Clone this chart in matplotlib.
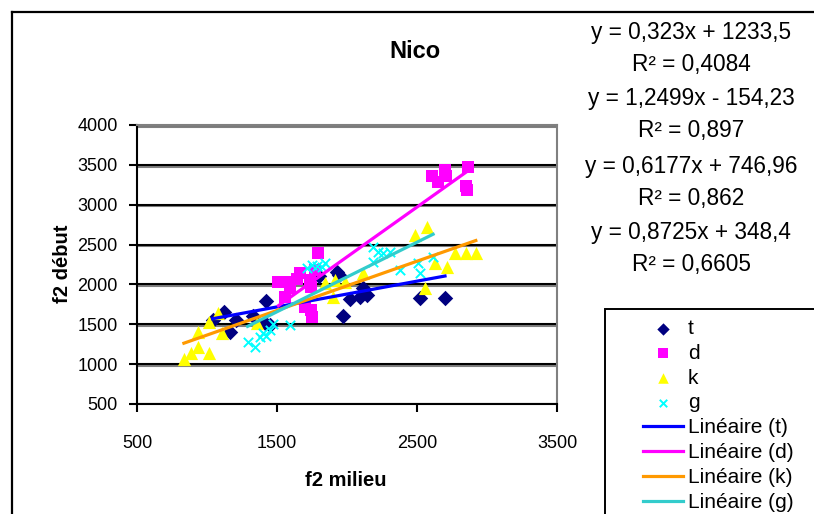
import matplotlib
matplotlib.use("Agg")
import matplotlib.pyplot as plt
import matplotlib.patheffects as pe
from matplotlib.lines import Line2D
from matplotlib.patches import Rectangle
import numpy as np

plt.rcParams['font.family'] = ['Liberation Sans', 'DejaVu Sans']

# ---- data ----
t_x = [1040, 1120, 1210, 1165, 1330, 1420, 1415, 1450, 1800, 1930, 1940, 1970, 2020, 2090, 2140, 2115, 2520, 2700]
t_y = [1560, 1650, 1550, 1400, 1600, 1790, 1520, 1490, 2100, 2150, 2120, 1600, 1820, 1840, 1870, 1950, 1830, 1830]

d_x = [1510, 1560, 1570, 1590, 1640, 1665, 1700, 1735, 1740, 1745, 1750, 1770, 1790, 2610, 2650, 2700, 2710, 2865, 2850, 2860]
d_y = [2030, 1840, 2030, 1950, 2070, 2140, 1720, 2050, 1970, 1680, 1590, 2180, 2390, 3360, 3280, 3430, 3360, 3470, 3230, 3180]

k_x = [835, 885, 935, 1015, 935, 1015, 1080, 1105, 1360, 1840, 1900, 1915, 1985, 2115, 2485, 2555, 2570, 2630, 2715, 2770, 2850, 2920]
k_y = [1060, 1140, 1215, 1140, 1400, 1530, 1640, 1390, 1520, 2020, 1840, 2060, 2030, 2140, 2620, 1950, 2720, 2270, 2220, 2390, 2390, 2400]

g_x = [1290, 1340, 1380, 1400, 1420, 1450, 1470, 1590, 1715, 1750, 1785, 1820, 1845, 2185, 2220, 2255, 2305, 2185, 2380, 2505, 2520, 2615]
g_y = [1280, 1215, 1340, 1390, 1350, 1430, 1500, 1490, 2200, 2240, 2230, 2220, 2270, 2470, 2410, 2390, 2410, 2280, 2180, 2270, 2140, 2340]

series_names = ['t', 'd', 'k', 'g']
slopes = [0.323, 1.2499, 0.6177, 0.8725]
intercepts = [1233.5, -154.23, 746.96, 348.4]
equations = ['y = 0,323x + 1233,5', 'R² = 0,4084',
             'y = 1,2499x - 154,23', 'R² = 0,897',
             'y = 0,6177x + 746,96', 'R² = 0,862',
             'y = 0,8725x + 348,4', 'R² = 0,6605']
x_ticks = [500, 1500, 2500, 3500]
y_ticks = [500, 1000, 1500, 2000, 2500, 3000, 3500, 4000]

# ---- styles ----
W, H = 814, 514
marker_styles = [dict(marker='D', color='#000080', s=62, lw=0),
                 dict(marker='s', color='#FF00FF', s=72, lw=0),
                 dict(marker='^', color='#FFFF00', s=90, lw=0),
                 dict(marker='x', color='#00FFFF', s=45, lw=1.4)]
line_colors = ['#0000FF', '#FF00FF', '#FF9900', '#33CCCC']

fig = plt.figure(figsize=(W / 100, H / 100), dpi=100)
fig.patch.set_facecolor('white')

def fx(px):
    return px / W

def fy(py):
    return 1 - py / H

ax = fig.add_axes([fx(137), fy(404), fx(557) - fx(137), fy(125) - fy(404)])
ax.set_xlim(500, 3500)
ax.set_ylim(500, 4000)
ax.set_xticks(x_ticks)
ax.set_yticks(y_ticks)
ax.set_xticklabels([str(v) for v in x_ticks])
ax.set_yticklabels([str(v) for v in y_ticks])
ax.tick_params(axis='y', direction='out', length=6, width=1.5, pad=8, labelsize=13)
ax.tick_params(axis='x', direction='out', length=6, width=1.5, pad=16, labelsize=13)

for s in ['left', 'bottom']:
    ax.spines[s].set_color('black')
    ax.spines[s].set_linewidth(1.5)
for s in ['top', 'right']:
    ax.spines[s].set_color('#808080')
    ax.spines[s].set_linewidth(1.5)

ax.grid(axis='y', color='black', lw=1.5)
ax.set_axisbelow(True)
for gl in ax.get_ygridlines():
    gl.set_path_effects([pe.SimpleLineShadow(offset=(0, -1.2), shadow_color='#808080', alpha=1.0),
                         pe.Normal()])

xs = [t_x, d_x, k_x, g_x]
ys = [t_y, d_y, k_y, g_y]
handles_pts = []
for i in range(4):
    ms = marker_styles[i]
    h = ax.scatter(xs[i], ys[i], marker=ms['marker'], c=ms['color'], s=ms['s'],
                   linewidths=ms['lw'], zorder=3, label=series_names[i])
    handles_pts.append(h)

handles_lines = []
for i in range(4):
    xr = np.array([min(xs[i]), max(xs[i])], dtype=float)
    yr = slopes[i] * xr + intercepts[i]
    ln, = ax.plot(xr, yr, color=line_colors[i], lw=2.3, zorder=4,
                  label='Linéaire (%s)' % series_names[i])
    handles_lines.append(ln)

# titles / labels
fig.text(fx(415), fy(52), 'Nico', ha='center', va='center', fontsize=17, fontweight='bold')
fig.text(fx(346), fy(481), 'f2 milieu', ha='center', va='center', fontsize=14.5, fontweight='bold')
fig.text(fx(62), fy(264), 'f2 début', ha='center', va='center', fontsize=14.5, fontweight='bold',
         rotation=90)

# outer chart frame
fig.add_artist(Line2D([fx(12), fx(12)], [0, fy(12)], transform=fig.transFigure, color='black', lw=1.6))
fig.add_artist(Line2D([fx(12), 1], [fy(12), fy(12)], transform=fig.transFigure, color='black', lw=1.6))

# equation labels
eq_y = [33, 64, 99, 131, 167, 198, 232, 264]
for txt, py in zip(equations, eq_y):
    fig.text(fx(691), fy(py), txt, ha='center', va='center', fontsize=16.3)

# legend box
fig.add_artist(Rectangle((fx(605), -0.2), 1, fy(309) + 0.2, transform=fig.transFigure,
                         facecolor='white', edgecolor='black', lw=1.4, zorder=5))
leg = fig.legend(handles_pts + handles_lines,
                 [h.get_label() for h in handles_pts + handles_lines],
                 loc='upper left', bbox_to_anchor=(fx(643), fy(319)),
                 bbox_transform=fig.transFigure, frameon=False, fontsize=15,
                 handlelength=1.9, handletextpad=0.25, borderpad=0, borderaxespad=0,
                 labelspacing=0.28, scatterpoints=1, markerscale=0.8)
leg.set_zorder(6)

fig.savefig('out.png', dpi=100, facecolor='white')
